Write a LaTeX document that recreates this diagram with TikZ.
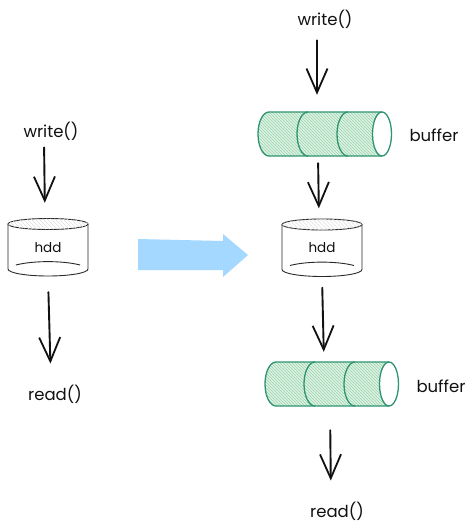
\documentclass[tikz,border=0pt]{standalone}
\usepackage{fontspec}
\setmainfont{Poppins}
\usetikzlibrary{arrows.meta}
\definecolor{bufgreen}{HTML}{2F9470}
\definecolor{hatchgreen}{HTML}{A3D9B5}
\definecolor{basegreen}{HTML}{E8F6EC}
\definecolor{inkblack}{HTML}{111111}
\definecolor{bigblue}{HTML}{A5D8FF}
\tikzset{
  lbl/.style={font=\fontsize{16.5}{18}\selectfont, text=inkblack, inner sep=0pt, minimum width=50pt, minimum height=14pt},
  sketch arrow/.style={draw=inkblack, line width=1.9pt, line cap=round, -{Straight Barb[length=24pt,width=21pt,line width=1.8pt]}},
  hddbox/.style={minimum width=80pt, minimum height=58pt, inner sep=0pt, font=\fontsize{13.5}{15}\selectfont, text=inkblack},
  bufbox/.style={minimum width=133pt, minimum height=44pt, inner sep=0pt},
  hddline/.style={draw=inkblack!90, line width=0.9pt},
  bufline/.style={draw=bufgreen, line width=1.3pt},
}
\newcommand{\bufshape}[2]{%
  \begin{scope}[shift={(#1,#2)}]
    \begin{scope}
      \clip (11,0) arc[start angle=90,end angle=270,x radius=11pt,y radius=22pt]
        -- (124,44) arc[start angle=270,end angle=90,x radius=9.5pt,y radius=22pt] -- cycle;
      \fill[basegreen] (0,0) rectangle (133,44);
      \foreach \i in {-46,-43,...,136} \draw[hatchgreen,line width=0.9pt] (\i,0) -- (\i+44,44);
    \end{scope}
    \draw[bufline,fill=white] (124,22) ellipse[x radius=9.5pt,y radius=22pt];
    \draw[bufline] (124,0) -- (11,0) arc[start angle=90,end angle=270,x radius=11pt,y radius=22pt] -- (124,44);
    \draw[bufline] (50,0) arc[start angle=90,end angle=270,x radius=11pt,y radius=22pt];
    \draw[bufline] (90,0) arc[start angle=90,end angle=270,x radius=11pt,y radius=22pt];
  \end{scope}}
\newcommand{\hddshape}[2]{%
  \begin{scope}[shift={(#1,#2)}]
    \draw[hddline] (40,6) ellipse[x radius=40pt,y radius=5.5pt];
    \begin{scope}
      \clip (40,6) ellipse[x radius=40pt,y radius=5.5pt];
      \foreach \i in {-10,-6,...,84} \draw[black!12,line width=0.4pt] (\i,0) -- (\i+12,12);
    \end{scope}
    \draw[hddline] (0,6) -- (0,51) arc[start angle=180,end angle=360,x radius=40pt,y radius=7pt] -- (80,6);
    \draw[hddline] (8,47) .. controls (25,42.5) and (55,42.5) .. (72,47);
  \end{scope}}
\begin{document}
\begin{tikzpicture}[x=1pt,y=-1pt]
\useasboundingbox (0,0) rectangle (474,530);
\fill[white] (0,0) rectangle (474,530);

% left column
\node[lbl] (wL) at (51,131) {write()};
\node[hddbox] (hL) at (48,248) {hdd};
\node[lbl] (rL) at (55,394) {read()};
\hddshape{8}{218}

% blue arrow
\fill[bigblue] (138,239) -- (223,241) -- (223,234) -- (248,255) -- (223,277) -- (223,270) -- (138,270) -- cycle;

% right column
\node[lbl] (wR) at (325,19) {write()};
\node[bufbox] (b1) at (324.5,134) {};
\bufshape{258}{112}
\node[lbl] (b1t) at (434,135) {buffer};
\node[hddbox] (hR) at (322,247.5) {hdd};
\hddshape{282}{218.5}
\node[bufbox] (b2) at (331.5,384) {};
\bufshape{265}{362}
\node[lbl] (b2t) at (441,386) {buffer};
\node[lbl] (rR) at (337,511) {read()};

% connectors
\draw[sketch arrow, shorten <=7pt, shorten >=16pt] ([xshift=-7pt]wL.south) -- ([xshift=-3pt]hL.north);
\draw[sketch arrow, shorten <=15pt, shorten >=21pt] (hL.south) -- ([xshift=-4pt]rL.north);
\draw[sketch arrow, shorten <=12pt, shorten >=17pt] ([xshift=-8pt]wR.south) -- ([xshift=-7.5pt]b1.north);
\draw[sketch arrow, shorten <=7pt, shorten >=10pt] ([xshift=-6.5pt]b1.south) -- ([xshift=-3pt]hR.north);
\draw[sketch arrow, shorten <=11pt, shorten >=10pt] (hR.south) -- ([xshift=-7.5pt]b2.north);
\draw[sketch arrow, shorten <=24pt, shorten >=21pt] ([xshift=-1.5pt]b2.south) -- ([xshift=-6pt]rR.north);
\end{tikzpicture}
\end{document}
